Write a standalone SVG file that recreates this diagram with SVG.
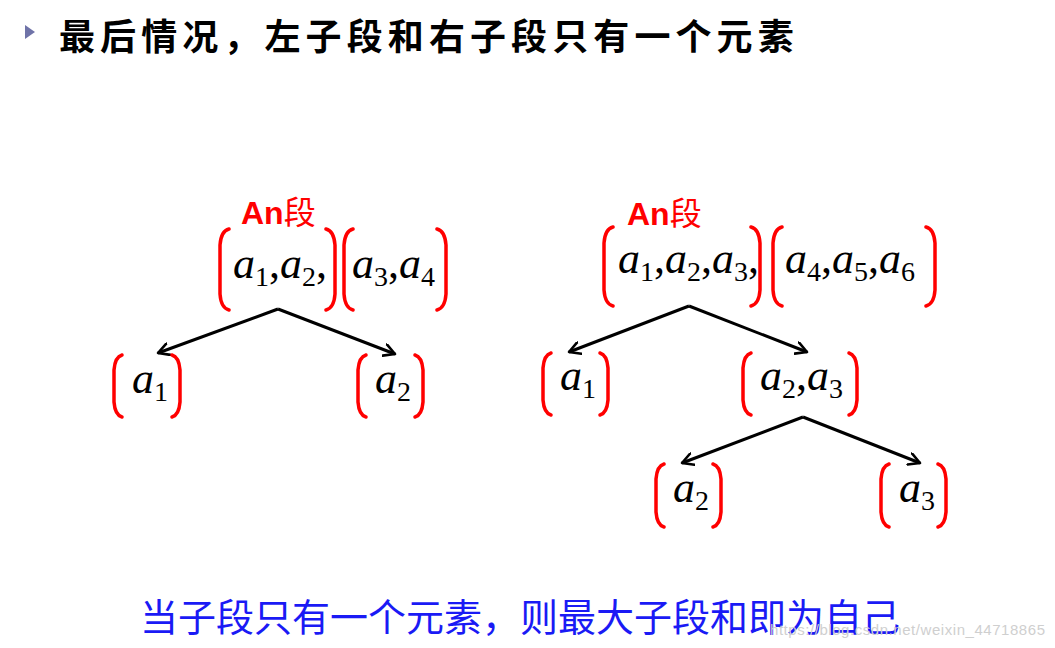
<svg xmlns="http://www.w3.org/2000/svg" width="1055" height="648" viewBox="0 0 1055 648">
<defs>
<style>
.br{fill:none;stroke:#ff0000;stroke-width:3.5;stroke-linecap:round}
.m{font-family:"Liberation Serif","Times New Roman",serif;font-style:italic;font-size:44px;fill:#000}
.s{font-style:normal;font-size:28px}
.an{font-family:"Liberation Sans",Arial,"Noto Sans CJK SC",sans-serif;font-weight:bold;font-size:32px;fill:#ff0000}
.cjk{font-family:"Noto Sans CJK SC",sans-serif;font-weight:normal}
.edge{fill:none;stroke:#000;stroke-width:3;marker-end:url(#ah)}
</style>
<marker id="ah" markerUnits="userSpaceOnUse" viewBox="0 0 14 14" markerWidth="14" markerHeight="14" refX="12" refY="7" orient="auto">
<path d="M1,1 L12,7 L1,13" fill="none" stroke="#000" stroke-width="2.6" stroke-linecap="round" stroke-linejoin="round"/>
</marker>
</defs>
<rect width="1055" height="648" fill="#fff"/>

<g id="title">
<polygon points="25,25 35,32 25,39" fill="#6f73a8"/>
<text x="59" y="50" font-family="'Noto Sans CJK SC',sans-serif" font-weight="bold" font-size="36" letter-spacing="5.1" fill="#000">最后情况，左子段和右子段只有一个元素</text>
</g>

<g id="connectors">
<path class="edge" d="M278,309 L158,353"/>
<path class="edge" d="M278,309 L395,354"/>
<path class="edge" d="M689,306 L569,352"/>
<path class="edge" d="M689,306 L807,352"/>
<path class="edge" d="M803,417 L682,463"/>
<path class="edge" d="M803,417 L920,463"/>
</g>

<g id="left-label">
<text class="an" x="241" y="224">An<tspan class="cjk">段</tspan></text>
</g>

<g id="left-root-a">
<path class="br" d="M229,229 Q221,231 220,245 L220,294 Q221,308 229,310"/>
<path class="br" d="M326,229 Q334,231 335,245 L335,294 Q334,308 326,310"/>
<text class="m" x="233" y="278">a<tspan class="s" dy="8">1</tspan><tspan dy="-8" font-style="normal">,</tspan>a<tspan class="s" dy="8">2</tspan><tspan dy="-8" font-style="normal">,</tspan></text>
</g>

<g id="left-root-b">
<path class="br" d="M353,229 Q345,231 344,245 L344,294 Q345,308 353,310"/>
<path class="br" d="M437,229 Q445,231 446,245 L446,294 Q445,308 437,310"/>
<text class="m" x="352" y="278">a<tspan class="s" dy="8">3</tspan><tspan dy="-8" font-style="normal">,</tspan>a<tspan class="s" dy="8">4</tspan></text>
</g>

<g id="left-a1">
<path class="br" d="M122,355 Q115,357 114,370 L114,402 Q115,415 122,417"/>
<path class="br" d="M172,355 Q179,357 180,370 L180,402 Q179,415 172,417"/>
<text class="m" x="132" y="393">a<tspan class="s" dy="8">1</tspan></text>
</g>

<g id="left-a2">
<path class="br" d="M366,355 Q359,357 358,370 L358,402 Q359,415 366,417"/>
<path class="br" d="M415,355 Q422,357 423,370 L423,402 Q422,415 415,417"/>
<text class="m" x="375" y="393">a<tspan class="s" dy="8">2</tspan></text>
</g>

<g id="right-label">
<text class="an" x="627" y="225">An<tspan class="cjk">段</tspan></text>
</g>

<g id="right-root-a">
<path class="br" d="M613,227 Q605,229 604,243 L604,290 Q605,304 613,306"/>
<path class="br" d="M751,227 Q759,229 760,243 L760,290 Q759,304 751,306"/>
<text class="m" x="618" y="273">a<tspan class="s" dy="8">1</tspan><tspan dy="-8" font-style="normal">,</tspan>a<tspan class="s" dy="8">2</tspan><tspan dy="-8" font-style="normal">,</tspan>a<tspan class="s" dy="8">3</tspan><tspan dy="-8" font-style="normal">,</tspan></text>
</g>

<g id="right-root-b">
<path class="br" d="M782,227 Q774,229 773,243 L773,290 Q774,304 782,306"/>
<path class="br" d="M926,227 Q934,229 935,243 L935,290 Q934,304 926,306"/>
<text class="m" x="785" y="273">a<tspan class="s" dy="8">4</tspan><tspan dy="-8" font-style="normal">,</tspan>a<tspan class="s" dy="8">5</tspan><tspan dy="-8" font-style="normal">,</tspan>a<tspan class="s" dy="8">6</tspan></text>
</g>

<g id="right-a1">
<path class="br" d="M551,353 Q544,355 543,368 L543,400 Q544,413 551,415"/>
<path class="br" d="M600,353 Q607,355 608,368 L608,400 Q607,413 600,415"/>
<text class="m" x="560" y="390">a<tspan class="s" dy="8">1</tspan></text>
</g>

<g id="right-a2a3">
<path class="br" d="M751,353 Q744,355 743,368 L743,400 Q744,413 751,415"/>
<path class="br" d="M849,353 Q856,355 857,368 L857,400 Q856,413 849,415"/>
<text class="m" x="760" y="390">a<tspan class="s" dy="8">2</tspan><tspan dy="-8" font-style="normal">,</tspan>a<tspan class="s" dy="8">3</tspan></text>
</g>

<g id="right-a2">
<path class="br" d="M664,464 Q657,466 656,479 L656,512 Q657,525 664,527"/>
<path class="br" d="M713,464 Q720,466 721,479 L721,512 Q720,525 713,527"/>
<text class="m" x="673" y="502">a<tspan class="s" dy="8">2</tspan></text>
</g>

<g id="right-a3">
<path class="br" d="M889,464 Q882,466 881,479 L881,512 Q882,525 889,527"/>
<path class="br" d="M938,464 Q945,466 946,479 L946,512 Q945,525 938,527"/>
<text class="m" x="899" y="502">a<tspan class="s" dy="8">3</tspan></text>
</g>

<g id="conclusion">
<text x="140" y="631" font-family="'Noto Sans CJK SC',sans-serif" font-size="38" fill="#1a1af5">当子段只有一个元素，则最大子段和即为自己</text>
</g>

<g id="watermark">
<text x="770" y="635" font-family="'Liberation Sans',Arial,sans-serif" font-size="15" fill="#cfcfcf" textLength="275">https://blog.csdn.net/weixin_44718865</text>
</g>
</svg>
